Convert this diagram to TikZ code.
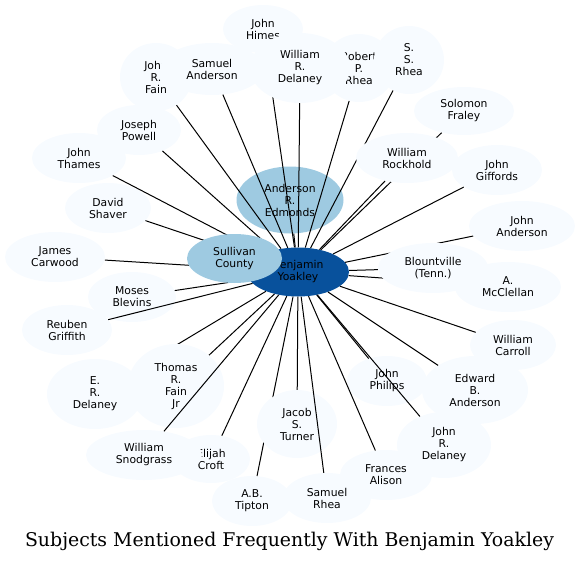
\documentclass[tikz,border=0pt]{standalone}
\usepackage{fontspec}
\setmainfont{DejaVu Serif}
\newfontfamily\labelfont{DejaVu Sans}
\usepackage{xcolor}
\usepackage{tikz}
\usetikzlibrary{shapes}
\definecolor{paleblue}{HTML}{F7FBFF}
\definecolor{midblue}{HTML}{9ECAE1}
\definecolor{darkblue}{HTML}{08519C}
\pgfdeclarelayer{back}
\pgfdeclarelayer{under}
\pgfdeclarelayer{front}
\pgfsetlayers{back,under,front,main}
\tikzstyle{subject}=[ellipse,fill=paleblue,inner sep=0pt,align=center,font={\labelfont\fontsize{10.8}{12}\selectfont}]
\tikzstyle{edge}=[draw,line width=1pt]
\tikzstyle{caption}=[font={\fontsize{18.9}{20}\selectfont}]

\begin{document}
\begin{tikzpicture}[x=1pt,y=-1pt]
 \useasboundingbox (0,0) rectangle (580,562);

 %back subjects
 \begin{pgfonlayer}{back}
   \foreach \x/\y/\w/\h/\name/\label in {263/29/40/24/himes/{John\\Himes}, 156/77/36/34/fain/{John\\R.\\Fain},
       212/69/52/26/samand/{Samuel\\Anderson}, 359/68/36/34/robrhea/{Robert\\P.\\Rhea}, 409/60/35/34/ssrhea/{S.\\S.\\Rhea},
       464/111/50/24/fraley/{Solomon\\Fraley}, 497/170/45/25/giffords/{John\\Giffords}, 522/226/53/25/janderson/{John\\Anderson},
       508/287/53/25/mcclellan/{A.\\McClellan}, 513/345/43/25/carroll/{William\\Carroll}, 475/390/53/34/edward/{Edward\\B.\\Anderson},
       387/381/40/25/philips/{John\\Philips}, 444/445/47/33/jrdel/{John\\R.\\Delaney}, 386/475/46/25/alison/{Frances\\Alison},
       327/498/44/25/samrhea/{Samuel\\Rhea}, 252/501/40/25/tipton/{A.B.\\Tipton}, 211/459/39/24/elijah/{Elijah\\Croft},
       144/455/58/25/snodgrass/{William\\Snodgrass}, 95/394/48/35/erdel/{E.\\R.\\Delaney}, 67/330/45/25/griffith/{Reuben\\Griffith},
       132/297/44/25/blevins/{Moses\\Blevins}, 55/257/50/25/carwood/{James\\Carwood}, 108/208/43/25/shaver/{David\\Shaver},
       79/158/47/25/thames/{John\\Thames}, 139/130/42/25/powell/{Joseph\\Powell}}
          \node[subject, minimum width=2*\w pt, minimum height=2*\h pt] (\name) at (\x,\y) {\label};

   \node[subject, fill=midblue, minimum width=107pt, minimum height=67pt] (edmonds) at (290,200) {Anderson\\R.\\Edmonds};
   \node[subject, fill=darkblue, minimum width=102pt, minimum height=49pt] (ben) at (298,272) {Benjamin\\Yoakley};
 \end{pgfonlayer}

 %front subjects
 \begin{pgfonlayer}{front}
   \foreach \x/\y/\w/\h/\name/\label in {300/68/50/35/wrdel/{William\\R.\\Delaney}, 407/158/51/25/rockhold/{William\\Rockhold},
       433/268/55/25/blount/{Blountville\\(Tenn.)}, 297/424/40/34/jacob/{Jacob\\S.\\Turner}, 176/386/48/42/thomas/{Thomas\\R.\\Fain\\Jr}}
          \node[subject, minimum width=2*\w pt, minimum height=2*\h pt] (\name) at (\x,\y) {\label};

   \node[subject, fill=midblue, minimum width=95pt, minimum height=49pt] (sullivan) at (234.5,258.5) {Sullivan\\County};
 \end{pgfonlayer}

 %edges
 \begin{pgfonlayer}{under}
   \foreach \dest in {himes, fain, samand, wrdel, robrhea, ssrhea, fraley, rockhold, giffords, janderson, blount, mcclellan,
       carroll, edward, philips, jrdel, alison, jacob, tipton, elijah, thomas, erdel, griffith, blevins, carwood, shaver,
       thames, powell, edmonds}
         \path[edge] (ben) -- (\dest);
 \end{pgfonlayer}

 \foreach \dest in {samrhea, snodgrass}
         \path[edge] (ben) -- (\dest);

 \node[caption] (title) at (289.5,541) {Subjects Mentioned Frequently With Benjamin Yoakley};

\end{tikzpicture}
\end{document}
